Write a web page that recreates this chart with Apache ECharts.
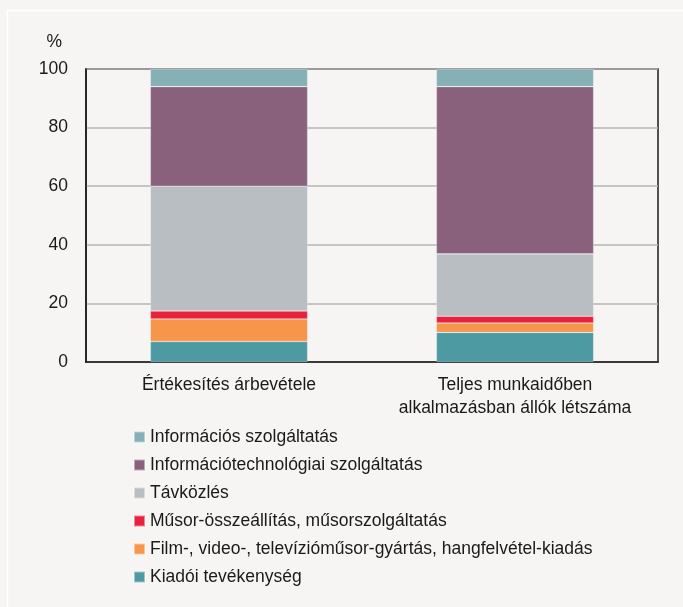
<!DOCTYPE html>
<html>
<head>
<meta charset="utf-8">
<script src="https://cdn.jsdelivr.net/npm/echarts@6/dist/echarts.min.js"></script>
<style>
  html, body { margin: 0; padding: 0; background: #f6f5f3; }
  #chart { width: 683px; height: 607px; }
</style>
</head>
<body>
<div id="chart"></div>
<script>
// categories and series, bottom of the stack first
const categories = ['Értékesítés árbevétele', 'Teljes munkaidőben\nalkalmazásban állók létszáma'];
const kiadoi = [7.0, 10.1];
const film = [7.7, 3.2];
const musor = [2.7, 2.3];
const tavkozles = [42.6, 21.3];
const itSzolg = [34.0, 57.1];
const infoSzolg = [6.0, 6.0];
const yTicks = [0, 20, 40, 60, 80, 100];

const seriesDefs = [
    { name: 'Kiadói tevékenység', data: kiadoi, color: '#4e9aa2' },
    { name: 'Film-, video-, televízióműsor-gyártás, hangfelvétel-kiadás', data: film, color: '#f7954a' },
    { name: 'Műsor-összeállítás, műsorszolgáltatás', data: musor, color: '#e8213e' },
    { name: 'Távközlés', data: tavkozles, color: '#b9bec2' },
    { name: 'Információtechnológiai szolgáltatás', data: itSzolg, color: '#8a617d' },
    { name: 'Információs szolgáltatás', data: infoSzolg, color: '#84b0b6' }
];

const font = '"Liberation Sans", Arial, sans-serif';
const fs = 17.5;
const chart = echarts.init(document.getElementById('chart'));

const option = {
    backgroundColor: '#f6f5f3',
    animation: false,
    textStyle: { fontFamily: font },
    graphic: [{
        type: 'rect',
        shape: { x: 7.5, y: 10.5, width: 720, height: 700 },
        style: { fill: 'none', stroke: '#ffffff', lineWidth: 1.5 },
        silent: true
    }],
    grid: {
        left: 86, right: 25, top: 69, bottom: 245,
        show: true, borderColor: '#1a1a1a', borderWidth: 1.5,
        backgroundColor: 'transparent'
    },
    legend: {
        orient: 'vertical',
        left: 133, top: 428, padding: 0,
        itemWidth: 11, itemHeight: 11, itemGap: 10, itemTextGap: 4,
        icon: 'rect',
        data: seriesDefs.map(s => s.name).reverse(),
        textStyle: { fontSize: fs, color: '#1a1a1a', lineHeight: 18, fontFamily: font }
    },
    xAxis: {
        type: 'category',
        data: categories,
        axisTick: { show: false },
        axisLine: { lineStyle: { color: '#1a1a1a', width: 1.5 } },
        axisLabel: { interval: 0, fontSize: fs, color: '#1a1a1a', margin: 12, lineHeight: 23, fontFamily: font }
    },
    yAxis: {
        type: 'value',
        min: yTicks[0], max: yTicks[yTicks.length - 1], interval: 20,
        name: '%',
        nameLocation: 'end',
        nameGap: 27,
        nameTextStyle: { fontSize: fs, color: '#1a1a1a', align: 'right', verticalAlign: 'middle', padding: [0, 24, 0, 0], fontFamily: font },
        axisLine: { show: true, lineStyle: { color: '#1a1a1a', width: 1.5 } },
        axisTick: { show: false },
        axisLabel: { fontSize: fs, color: '#1a1a1a', margin: 18, fontFamily: font },
        splitLine: { lineStyle: { color: '#b5b5b5', width: 1.5 } }
    },
    series: seriesDefs.map(s => ({
        name: s.name,
        type: 'bar',
        stack: 'total',
        barWidth: '55%',
        data: s.data,
        itemStyle: { color: s.color, borderColor: 'rgba(255,255,255,0.45)', borderWidth: 0.6 }
    }))
};

chart.setOption(option);
</script>
</body>
</html>
